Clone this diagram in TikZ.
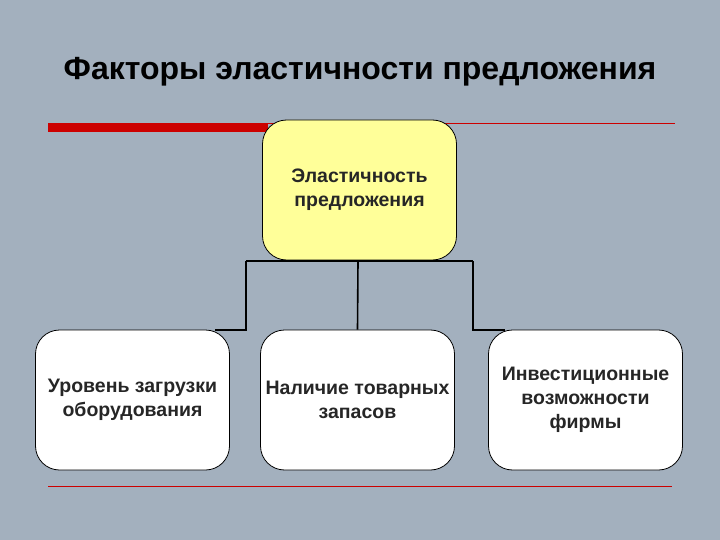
\documentclass[tikz,border=0pt]{standalone}
\usepackage{fontspec}
\setmainfont{Liberation Sans}
\begin{document}
\begin{tikzpicture}[x=1pt,y=-1pt,
  box/.style={draw=black,line width=0.8pt,rounded corners=24pt,minimum width=194pt,minimum height=140pt,align=center,font=\fontsize{19.5}{24}\selectfont\bfseries,text=black!85},
  conn/.style={draw=black,line width=1.6pt}]
\fill[fill={rgb,255:red,163;green,176;blue,190}] (0,0) rectangle (720,540);
\useasboundingbox (0,0) rectangle (720,540);
\node[font=\fontsize{32}{38}\selectfont\bfseries] (title) at (360,72) {Факторы эластичности предложения};
\coordinate (r1) at (48,127.5); \coordinate (r2) at (268,127.5);
\draw[red!80!black,line width=9pt] (r1) -- (r2);
\coordinate (t1) at (268,123); \coordinate (t2) at (675,123);
\draw[red!80!black,line width=0.6pt] (t1) -- (t2);
\coordinate (b1) at (48,486); \coordinate (b2) at (672,486);
\draw[red!80!black,line width=0.6pt] (b1) -- (b2);
\node[box,fill={rgb,255:red,255;green,255;blue,153}] (top) at (359.5,190) {Эластичность\\предложения};
\node[box,fill=white] (l) at (132.5,400) {Уровень загрузки\\оборудования};
\node[box,fill=white] (m) at (357.5,400) {Наличие товарных\\запасов};
\node[box,fill=white] (r) at (585.5,400) {Инвестиционные\\возможности\\фирмы};
\coordinate (hl) at (246,261); \coordinate (hr) at (473,261); \coordinate (hm) at (358,261);
\coordinate (el) at (215,330); \coordinate (er) at (505,330);
\draw[conn] (hl) -- (hr);
\draw[conn] (hl) |- (el);
\draw[conn] (hr) |- (er);
\draw[conn] (hm) -- (m.north);
\end{tikzpicture}
\end{document}
